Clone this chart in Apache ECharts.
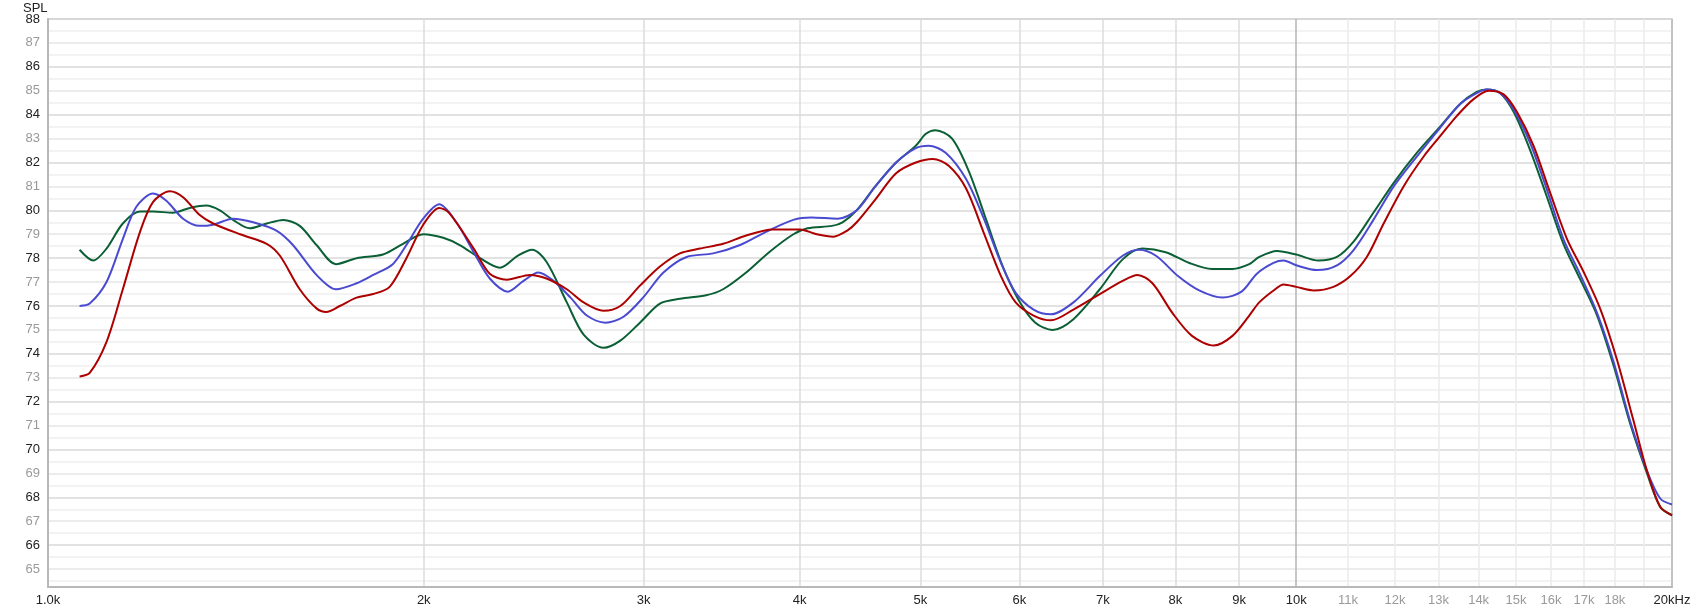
<!DOCTYPE html>
<html>
<head>
<meta charset="utf-8">
<title>SPL</title>
<script src="https://cdn.jsdelivr.net/npm/echarts@6/dist/echarts.min.js"></script>
<style>
html,body{margin:0;padding:0;background:#fff;}
#chart{width:1696px;height:613px;}
</style>
</head>
<body>
<div id="chart"></div>
<script>
// 频率 (kHz) 和 SPL 读数
var redFreq = [1.060,1.080,1.114,1.148,1.185,1.214,1.252,1.283,1.323,1.356,1.425,1.497,1.534,1.591,1.641,1.671,1.713,1.767,1.822,1.878,1.937,1.998,2.058,2.095,2.193,2.259,2.331,2.433,2.508,2.604,2.686,2.786,2.874,2.980,3.092,3.208,3.328,3.474,3.625,3.806,4.003,4.129,4.258,4.368,4.445,4.60,4.78,4.957,5.114,5.27,5.44,5.62,5.80,5.96,6.16,6.36,6.63,6.96,7.26,7.46,7.67,7.96,8.25,8.59,8.89,9.17,9.34,9.59,9.77,10.0,10.33,10.71,11.05,11.39,11.75,12.19,12.65,13.04,13.45,13.87,14.26,14.66,15.03,15.49,15.97,16.48,17.0,17.53,18.07,18.63,19.1,19.57,20.0];
var redSpl  = [73.05,73.2,74.5,76.7,79.1,80.35,80.8,80.55,79.8,79.45,79.0,78.6,78.1,76.7,75.9,75.75,76.0,76.35,76.5,76.8,78.0,79.4,80.1,79.9,78.4,77.35,77.1,77.3,77.15,76.7,76.15,75.8,76.0,76.85,77.65,78.2,78.4,78.6,78.95,79.2,79.2,79.0,78.9,79.15,79.5,80.45,81.55,82.0,82.15,81.85,80.9,79.05,77.25,76.15,75.6,75.4,75.85,76.5,77.05,77.3,76.95,75.7,74.75,74.35,74.75,75.6,76.15,76.65,76.9,76.8,76.65,76.8,77.25,78.05,79.45,81.0,82.25,83.1,83.95,84.65,85.0,84.85,84.1,82.7,80.75,78.8,77.4,75.85,73.75,71.2,69.1,67.6,67.25];

var blueFreq = [1.060,1.080,1.114,1.148,1.177,1.214,1.244,1.283,1.323,1.356,1.407,1.460,1.524,1.571,1.641,1.701,1.767,1.822,1.889,1.937,1.998,2.058,2.124,2.193,2.259,2.336,2.404,2.471,2.541,2.622,2.702,2.796,2.891,2.997,3.112,3.248,3.412,3.585,3.76,3.955,4.087,4.292,4.445,4.60,4.78,4.957,5.075,5.24,5.44,5.62,5.80,5.96,6.16,6.36,6.63,6.96,7.26,7.48,7.72,8.04,8.36,8.73,9.04,9.30,9.59,9.77,10.0,10.39,10.78,11.12,11.53,11.97,12.49,13.04,13.53,13.95,14.21,14.57,14.94,15.40,15.87,16.37,16.89,17.42,17.96,18.51,19.1,19.57,20.0];
var blueSpl  = [76.0,76.1,77.0,78.8,80.15,80.7,80.4,79.65,79.35,79.4,79.65,79.5,79.15,78.55,77.3,76.7,76.95,77.3,77.75,78.55,79.65,80.25,79.5,78.25,77.15,76.6,77.05,77.4,77.05,76.35,75.6,75.3,75.55,76.35,77.4,78.05,78.2,78.55,79.1,79.6,79.7,79.65,80.0,81.0,82.0,82.6,82.7,82.4,81.3,79.65,77.8,76.55,75.85,75.65,76.15,77.25,78.1,78.35,78.1,77.25,76.65,76.35,76.6,77.35,77.8,77.9,77.7,77.5,77.7,78.35,79.6,81.0,82.25,83.45,84.45,84.9,85.05,84.9,84.2,82.8,80.9,78.8,77.3,75.7,73.65,71.2,69.1,67.95,67.7];

var greenFreq = [1.060,1.087,1.114,1.148,1.185,1.214,1.259,1.299,1.339,1.373,1.407,1.451,1.497,1.543,1.591,1.641,1.701,1.767,1.855,1.925,1.998,2.073,2.137,2.219,2.302,2.378,2.443,2.508,2.604,2.686,2.786,2.874,2.980,3.092,3.208,3.367,3.474,3.625,3.782,3.955,4.06,4.247,4.33,4.445,4.60,4.78,4.957,5.05,5.14,5.30,5.47,5.64,5.82,6.0,6.18,6.38,6.63,6.96,7.26,7.53,7.86,8.21,8.56,8.89,9.17,9.34,9.65,10.0,10.42,10.78,11.12,11.53,11.97,12.49,13.04,13.53,13.95,14.21,14.57,14.94,15.40,15.87,16.37,16.89,17.42,17.96,18.51,19.1,19.57,20.0];
var greenSpl  = [78.35,77.9,78.4,79.45,79.95,79.95,79.9,80.1,80.2,80.0,79.6,79.25,79.45,79.6,79.35,78.55,77.75,78.0,78.15,78.6,79.0,78.85,78.55,78.0,77.6,78.1,78.35,77.85,76.15,74.8,74.25,74.55,75.3,76.1,76.3,76.45,76.7,77.4,78.25,79.0,79.25,79.35,79.5,80.0,81.0,82.0,82.7,83.2,83.35,83.0,81.6,79.65,77.65,76.2,75.3,75.0,75.45,76.7,77.95,78.4,78.25,77.8,77.55,77.55,77.75,78.05,78.3,78.15,77.9,78.05,78.7,79.9,81.15,82.4,83.5,84.45,84.95,85.05,84.9,84.1,82.5,80.6,78.6,77.1,75.6,73.5,71.1,69.0,67.6,67.25];

// 坐标轴刻度
var xGridVals = [1000,2000,3000,4000,5000,6000,7000,8000,9000,10000,11000,12000,13000,14000,15000,16000,17000,18000,19000,20000];
var xLabelVals = [1000,2000,3000,4000,5000,6000,7000,8000,9000,10000,11000,12000,13000,14000,15000,16000,17000,18000,20000];
var xLabelText = ['1.0k','2k','3k','4k','5k','6k','7k','8k','9k','10k','11k','12k','13k','14k','15k','16k','17k','18k','20kHz'];
var yGridVals = [64.5,65,65.5,66,66.5,67,67.5,68,68.5,69,69.5,70,70.5,71,71.5,72,72.5,73,73.5,74,74.5,75,75.5,76,76.5,77,77.5,78,78.5,79,79.5,80,80.5,81,81.5,82,82.5,83,83.5,84,84.5,85,85.5,86,86.5,87,87.5,88];
var yLabelVals = [65,66,67,68,69,70,71,72,73,74,75,76,77,78,79,80,81,82,83,84,85,86,87,88];

function toPairs(fr, v) {
    var res = [];
    for (var i = 0; i < fr.length; i++) {
        res.push([fr[i] * 1000, v[i]]);
    }
    return res;
}

// 竖线颜色 (按刻度顺序循环)
var xLineColors = [];
for (var i = 0; i < xGridVals.length; i++) {
    var f = xGridVals[i];
    if (f == 1000 || f == 20000) xLineColors.push('#bdbdbd');
    else if (f == 10000) xLineColors.push('#b4b4b4');
    else if (f < 10000) xLineColors.push('#dcdcdc');
    else xLineColors.push('#ebebeb');
}

var FONT = 'Liberation Sans';

function mkSeries(name, color, fr, v) {
    return {
        name: name,
        type: 'line',
        data: toPairs(fr, v),
        smooth: 0.3,
        showSymbol: false,
        symbol: 'none',
        clip: true,
        lineStyle: { color: color, width: 2 },
        itemStyle: { color: color },
        z: 3
    };
}

var myChart = echarts.init(document.getElementById('chart'));
var option = {
    animation: false,
    backgroundColor: '#ffffff',
    grid: {
        left: 48, right: 24, top: 19, bottom: 26,
        show: true,
        borderColor: '#c6c6c6',
        borderWidth: 1.5,
        backgroundColor: 'transparent'
    },
    graphic: [{
        type: 'text',
        left: 23,
        top: 2,
        style: { text: 'SPL', fontFamily: FONT, fontSize: 13, fill: '#222' }
    }],
    xAxis: {
        type: 'log',
        logBase: 10,
        min: 1000,
        max: 20000,
        axisLine: { show: true, lineStyle: { color: '#b8b8b8', width: 2 } },
        axisTick: { show: false, customValues: xGridVals },
        splitLine: { show: true, lineStyle: { color: xLineColors, width: 1.5 } },
        minorTick: { show: false },
        minorSplitLine: { show: false },
        axisLabel: {
            customValues: xLabelVals,
            margin: 7,
            fontFamily: FONT,
            fontSize: 13,
            showMinLabel: true,
            showMaxLabel: true,
            hideOverlap: false,
            formatter: function (v) {
                var idx = xLabelVals.indexOf(Math.round(v));
                return idx >= 0 ? xLabelText[idx] : '';
            },
            color: function (v) {
                var f = Math.round(v);
                return (f > 10000 && f < 20000) ? '#9a9a9a' : '#222';
            }
        }
    },
    yAxis: {
        type: 'value',
        min: 64.25,
        max: 88,
        axisLine: { show: true, lineStyle: { color: '#b8b8b8', width: 2 } },
        axisTick: { show: false, customValues: yGridVals },
        splitLine: {
            show: true,
            lineStyle: { color: ['#efefef', '#e6e6e6', '#efefef', '#d9d9d9'], width: 1.5 }
        },
        axisLabel: {
            customValues: yLabelVals,
            margin: 8,
            fontFamily: FONT,
            fontSize: 13,
            formatter: function (v) { return String(Math.round(v)); },
            color: function (v) {
                return Math.round(v) % 2 == 0 ? '#222' : '#999';
            }
        }
    },
    series: [
        mkSeries('Green', '#0b5f34', greenFreq, greenSpl),
        mkSeries('Blue', '#4a4ad0', blueFreq, blueSpl),
        mkSeries('Red', '#ad0000', redFreq, redSpl)
    ]
};
myChart.setOption(option);
</script>
</body>
</html>
